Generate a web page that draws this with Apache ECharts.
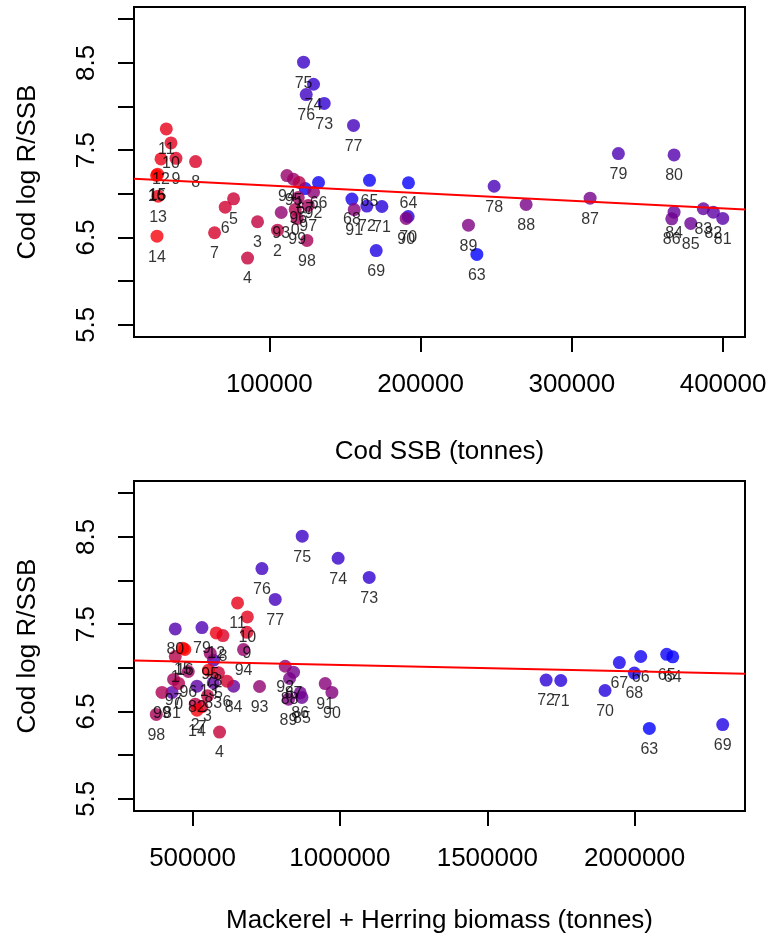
<!DOCTYPE html>
<html><head><meta charset="utf-8">
<script src="https://cdn.jsdelivr.net/npm/echarts@6/dist/echarts.min.js"></script>
<style>html,body{margin:0;padding:0;background:#fff}#c{width:770px;height:941px}</style>
</head><body><div id="c"></div>
<script>
// Year labels (1963-2016, shown as two-digit / short year)
const yearLabels = ['63','64','65','66','67','68','69','70','71','72','73','74','75','76','77','78','79',
  '80','81','82','83','84','85','86','87','88','89','90','91','92','93','94','95','96','97','98','99',
  '0','1','2','3','4','5','6','7','8','9','10','11','12','13','14','15','16'];
// Cod spawning stock biomass (tonnes)
const codSSB = [237230,192030,166260,132560,123770,154630,170690,191830,174450,164540,136320,129250,122650,124430,155700,248660,330800,
  367610,399790,393580,386970,367600,378640,366090,312100,269810,231680,190500,156150,129250,107910,111680,116040,119140,125750,124890,118480,
  117160,119800,105470,92250,85640,76390,70900,63830,51280,38330,35020,31920,28410,26500,25770,26170,25500];
// Cod log recruits per SSB
const codLogRSSB = [6.306,7.126,7.155,7.130,7.060,6.940,6.350,6.740,6.855,6.860,8.035,8.255,8.508,8.137,7.784,7.087,7.461,
  7.446,6.718,6.790,6.829,6.790,6.661,6.714,6.950,6.878,6.641,6.718,6.820,7.018,6.786,7.209,7.167,6.958,6.867,6.466,6.718,
  6.821,7.130,6.584,6.680,6.264,6.943,6.847,6.554,7.369,7.407,7.583,7.743,7.400,6.973,6.515,7.225,7.210];
// Mackerel + herring biomass (tonnes)
const mackHerring = [2049800,2129200,2108800,2020700,1948100,1999000,2298700,1899600,1749400,1699600,1099400,994000,872200,735500,780600,571400,532000,
  441500,430300,515100,570400,639300,871100,865400,842700,829100,825700,972900,950200,814500,727400,673100,560200,485700,435800,377100,396400,
  452700,441500,509300,551000,591700,588300,616800,532000,603200,684600,686000,652800,580500,554400,515100,467000,474000];

const yTicks = [5.5,6,6.5,7,7.5,8,8.5,9];
const yTickLabels = [5.5,6.5,7.5,8.5];
const xTicksTop = [100000,200000,300000,400000];
const xTicksBottom = [500000,1000000,1500000,2000000];

const FONT = 'Liberation Sans, Arial, Helvetica, sans-serif';
const n = yearLabels.length;
function yearColor(i){
  const t = i/(n-1);
  return 'rgb(' + Math.round(255*t) + ',0,' + Math.round(255*(1-t)) + ')';
}
function fit(xs, ys){
  let mx=0,my=0; for(let i=0;i<xs.length;i++){mx+=xs[i];my+=ys[i];} mx/=xs.length; my/=ys.length;
  let sxy=0,sxx=0; for(let i=0;i<xs.length;i++){sxy+=(xs[i]-mx)*(ys[i]-my); sxx+=(xs[i]-mx)*(xs[i]-mx);}
  const b=sxy/sxx; return {a:my-b*mx,b:b};
}
const ranges = {
  top:{xmin:10573,xmax:414500},
  bot:{xmin:301460,xmax:2374360},
  ymin:5.36, ymax:9.14
};
function pts(xs){
  return yearLabels.map((lab,i)=>({value:[xs[i],codLogRSSB[i]],name:lab,itemStyle:{color:yearColor(i)}}));
}
function lineData(xs, r){
  const f=fit(xs,codLogRSSB);
  return [[r.xmin,f.a+f.b*r.xmin],[r.xmax,f.a+f.b*r.xmax]];
}
const axisText = {color:'#000',fontSize:26,fontFamily:FONT};
function xAxisCfg(gi, r, ticks, name, gap){
  return {gridIndex:gi,type:'value',min:r.xmin,max:r.xmax,
    axisLine:{show:true,lineStyle:{color:'#000',width:2}},
    splitLine:{show:false},
    axisTick:{show:true,length:15,customValues:ticks,lineStyle:{color:'#000',width:2}},
    axisLabel:Object.assign({customValues:ticks,margin:35,formatter:v=>String(v)},axisText),
    name:name,nameLocation:'middle',nameGap:gap,nameTextStyle:axisText};
}
function yAxisCfg(gi){
  return {gridIndex:gi,type:'value',min:ranges.ymin,max:ranges.ymax,
    axisLine:{show:true,lineStyle:{color:'#000',width:2}},
    splitLine:{show:false},
    axisTick:{show:true,length:16,customValues:yTicks,lineStyle:{color:'#000',width:2}},
    axisLabel:Object.assign({customValues:yTickLabels,margin:34,rotate:90,formatter:v=>String(v)},axisText),
    name:'Cod log R/SSB',nameLocation:'middle',nameRotate:90,nameGap:93,nameTextStyle:axisText};
}
const labelCfg = {show:true,position:'bottom',distance:6,formatter:p=>p.name,color:'#000',fontSize:16,fontFamily:FONT,lineHeight:17};
const chart = echarts.init(document.getElementById('c'),null,{renderer:'canvas'});
chart.setOption({
  animation:false,
  backgroundColor:'#fff',
  grid:[
    {left:134,top:7,width:611,height:330,show:true,borderColor:'#000',borderWidth:2,containLabel:false},
    {left:134,top:481,width:611,height:330,show:true,borderColor:'#000',borderWidth:2,containLabel:false}
  ],
  xAxis:[xAxisCfg(0,ranges.top,xTicksTop,'Cod SSB (tonnes)',102),xAxisCfg(1,ranges.bot,xTicksBottom,'Mackerel + Herring biomass (tonnes)',97)],
  yAxis:[yAxisCfg(0),yAxisCfg(1)],
  series:[
    {type:'scatter',xAxisIndex:0,yAxisIndex:0,symbolSize:13,data:pts(codSSB),label:labelCfg,z:2},
    {type:'scatter',xAxisIndex:1,yAxisIndex:1,symbolSize:13,data:pts(mackHerring),label:labelCfg,z:2},
    {type:'line',xAxisIndex:0,yAxisIndex:0,data:lineData(codSSB,ranges.top),symbol:'none',lineStyle:{color:'#ff0000',width:2},z:3,silent:true},
    {type:'line',xAxisIndex:1,yAxisIndex:1,data:lineData(mackHerring,ranges.bot),symbol:'none',lineStyle:{color:'#ff0000',width:2},z:3,silent:true}
  ]
});
</script></body></html>
